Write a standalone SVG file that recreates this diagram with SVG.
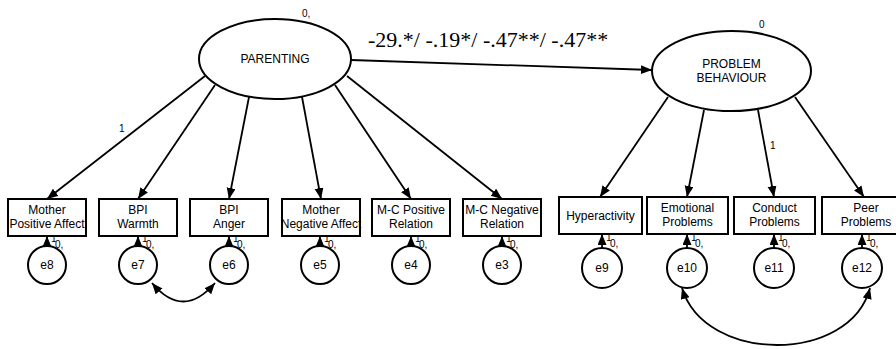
<svg xmlns="http://www.w3.org/2000/svg" width="896" height="349" viewBox="0 0 896 349">
<defs>
<marker id="ah" markerUnits="userSpaceOnUse" markerWidth="12" markerHeight="10" refX="11" refY="4.5" orient="auto-start-reverse">
<path d="M0,0 L11,4.5 L0,9 z" fill="#000"/>
</marker>
</defs>
<style>
.n{fill:#fff;stroke:#000;stroke-width:2}
.t{font-family:"Liberation Sans",Arial,sans-serif;font-size:12px;fill:#000;text-anchor:middle}
.s{font-family:"Liberation Sans",Arial,sans-serif;font-size:10px;fill:#000}
.c{fill:none;stroke:#000;stroke-width:1.8;marker-end:url(#ah)}
.cv{fill:none;stroke:#000;stroke-width:1.8;marker-start:url(#ah);marker-end:url(#ah)}
.lab{font-family:"Liberation Serif","Times New Roman",serif;font-size:22px;fill:#000}
</style>
<rect width="896" height="349" fill="#fff"/>

<g id="connectors">
<path class="c" d="M351,60 L652,70"/>
<path class="c" d="M205,76 L47,199"/>
<path class="c" d="M215,85 L138,199"/>
<path class="c" d="M249,97 L229,199"/>
<path class="c" d="M302,97 L321,199"/>
<path class="c" d="M335,85 L411,199"/>
<path class="c" d="M347,76 L502,199"/>
<path class="c" d="M668,97 L600,197"/>
<path class="c" d="M704,110 L687,197"/>
<path class="c" d="M758,110 L774,197"/>
<path class="c" d="M795,97 L864,197"/>
<path class="c" d="M47,246 L47,236"/>
<path class="c" d="M138,246 L138,236"/>
<path class="c" d="M229,246 L229,236"/>
<path class="c" d="M320,246 L320,236"/>
<path class="c" d="M411,246 L411,236"/>
<path class="c" d="M502,246 L502,236"/>
<path class="c" d="M602,248 L602,234"/>
<path class="c" d="M687,248 L687,234"/>
<path class="c" d="M774,248 L774,234"/>
<path class="c" d="M862,248 L862,234"/>
<path class="cv" d="M152,283 Q183,320 215,283"/>
<path class="cv" d="M682,288 C705,364 850,364 870,288"/>
<text class="lab" x="368" y="47">-29.*/ -.19*/ -.47**/ -.47**</text>
<text class="s" x="119" y="132">1</text>
<text class="s" x="770" y="149">1</text>
<g class="s">
<text x="51" y="242">1</text><text x="55" y="248">0,</text>
<text x="142" y="242">1</text><text x="146" y="248">0,</text>
<text x="233" y="242">1</text><text x="237" y="248">0,</text>
<text x="324" y="242">1</text><text x="328" y="248">0,</text>
<text x="415" y="242">1</text><text x="419" y="248">0,</text>
<text x="506" y="242">1</text><text x="510" y="248">0,</text>
<text x="606" y="241">1</text><text x="610" y="247">0,</text>
<text x="691" y="241">1</text><text x="695" y="247">0,</text>
<text x="778" y="241">1</text><text x="782" y="247">0,</text>
<text x="866" y="241">1</text><text x="870" y="247">0,</text>
</g>
</g>

<g id="parenting">
<ellipse class="n" cx="275" cy="59" rx="76" ry="40"/>
<text class="t" x="275" y="63">PARENTING</text>
<text class="s" x="302" y="17">0,</text>
</g>
<g id="problem-behaviour">
<ellipse class="n" cx="731.5" cy="71" rx="79.5" ry="40"/>
<text class="t" x="731.5" y="68">PROBLEM</text>
<text class="t" x="731.5" y="82">BEHAVIOUR</text>
<text class="s" x="759" y="28">0</text>
</g>

<g id="mother-positive-affect"><rect class="n" x="8" y="199" width="78" height="37"/><text class="t" x="47" y="214">Mother</text><text class="t" x="47" y="228">Positive Affect</text></g>
<g id="bpi-warmth"><rect class="n" x="99" y="199" width="78" height="37"/><text class="t" x="138" y="214">BPI</text><text class="t" x="138" y="228">Warmth</text></g>
<g id="bpi-anger"><rect class="n" x="190" y="199" width="78" height="37"/><text class="t" x="229" y="214">BPI</text><text class="t" x="229" y="228">Anger</text></g>
<g id="mother-negative-affect"><rect class="n" x="282" y="199" width="78" height="37"/><text class="t" x="321" y="214">Mother</text><text class="t" x="321" y="228">Negative Affect</text></g>
<g id="mc-positive-relation"><rect class="n" x="372" y="199" width="78" height="37"/><text class="t" x="411" y="214">M-C Positive</text><text class="t" x="411" y="228">Relation</text></g>
<g id="mc-negative-relation"><rect class="n" x="463" y="199" width="78" height="37"/><text class="t" x="502" y="214">M-C Negative</text><text class="t" x="502" y="228">Relation</text></g>

<g id="hyperactivity"><rect class="n" x="559" y="197" width="83" height="37"/><text class="t" x="600.5" y="220">Hyperactivity</text></g>
<g id="emotional-problems"><rect class="n" x="647" y="197" width="81" height="37"/><text class="t" x="687.5" y="212">Emotional</text><text class="t" x="687.5" y="226">Problems</text></g>
<g id="conduct-problems"><rect class="n" x="734" y="197" width="81" height="37"/><text class="t" x="774.5" y="212">Conduct</text><text class="t" x="774.5" y="226">Problems</text></g>
<g id="peer-problems"><rect class="n" x="822" y="197" width="84" height="37"/><text class="t" x="866" y="212">Peer</text><text class="t" x="866" y="226">Problems</text></g>

<g id="e8"><circle class="n" cx="47" cy="265" r="19"/><text class="t" x="47" y="269">e8</text></g>
<g id="e7"><circle class="n" cx="138" cy="265" r="19"/><text class="t" x="138" y="269">e7</text></g>
<g id="e6"><circle class="n" cx="229" cy="265" r="19"/><text class="t" x="229" y="269">e6</text></g>
<g id="e5"><circle class="n" cx="320" cy="265" r="19"/><text class="t" x="320" y="269">e5</text></g>
<g id="e4"><circle class="n" cx="411" cy="265" r="19"/><text class="t" x="411" y="269">e4</text></g>
<g id="e3"><circle class="n" cx="502" cy="265" r="19"/><text class="t" x="502" y="269">e3</text></g>
<g id="e9"><circle class="n" cx="602" cy="268" r="20"/><text class="t" x="602" y="272">e9</text></g>
<g id="e10"><circle class="n" cx="687" cy="268" r="20"/><text class="t" x="687" y="272">e10</text></g>
<g id="e11"><circle class="n" cx="774" cy="268" r="20"/><text class="t" x="774" y="272">e11</text></g>
<g id="e12"><circle class="n" cx="862" cy="268" r="20"/><text class="t" x="862" y="272">e12</text></g>
</svg>
